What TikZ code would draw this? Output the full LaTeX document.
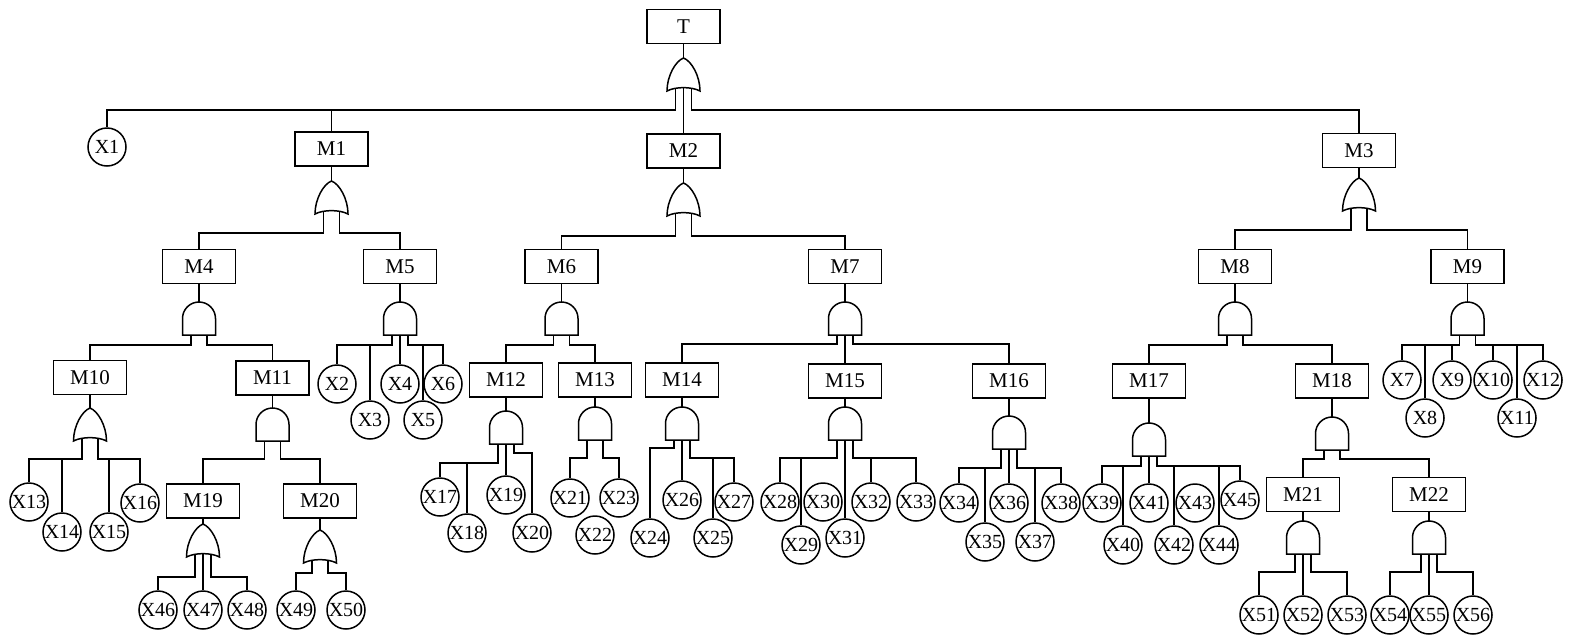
\documentclass[tikz,border=0pt]{standalone}
\usepackage{fontspec}
\setmainfont{Liberation Serif}
\newcommand\legto[3]{\draw (#1) -- (#1 |- 0,#2) -| (#3);}
\newcommand\dropto[2]{\draw (#2 |- 0,#1) -- (#2);}
\tikzset{
  evbox/.style={draw, rectangle, minimum width=36.5pt, minimum height=17pt, inner sep=0pt, font=\fontsize{10.5}{12}\selectfont},
  basic/.style={draw, circle, minimum size=19pt, inner sep=0pt, font=\fontsize{10}{12}\selectfont},
  orgate/.pic={
    \draw (0,0) .. controls (8,3) and (16.5,18) .. (16.5,33)
      .. controls (8,28.5) and (-8,28.5) .. (-16.5,33)
      .. controls (-16.5,18) and (-8,3) .. (0,0) -- cycle;
    \coordinate (-t) at (0,0);
    \coordinate (-l) at (-8,30.3);
    \coordinate (-c) at (0,29.6);
    \coordinate (-r) at (8,30.3);
  },
  andgate/.pic={
    \draw (-16.5,33) -- (-16.5,16.5) .. controls (-16.5,7.4) and (-9.1,0) .. (0,0)
      .. controls (9.1,0) and (16.5,7.4) .. (16.5,16.5) -- (16.5,33) -- cycle;
    \coordinate (-t) at (0,0);
    \coordinate (-l) at (-8,33);
    \coordinate (-c) at (0,33);
    \coordinate (-r) at (8,33);
  }
}
\begin{document}
\begin{tikzpicture}[x=0.5pt, y=-0.5pt, line width=0.75pt]
\useasboundingbox (0,0) rectangle (1572,643);
% event boxes
\node[evbox] (T) at (683.5,26.5) {T};
\node[evbox] (M1) at (331.5,149) {M1};
\node[evbox] (M2) at (683.5,151) {M2};
\node[evbox] (M3) at (1359,150.5) {M3};
\node[evbox] (M4) at (199,266.5) {M4};
\node[evbox] (M5) at (400,266.5) {M5};
\node[evbox] (M6) at (561.5,266.5) {M6};
\node[evbox] (M7) at (845,266.5) {M7};
\node[evbox] (M8) at (1235,266.5) {M8};
\node[evbox] (M9) at (1467.5,266.5) {M9};
\node[evbox] (M10) at (90,377.5) {M10};
\node[evbox] (M11) at (272.5,378) {M11};
\node[evbox] (M12) at (506,380) {M12};
\node[evbox] (M13) at (595,380) {M13};
\node[evbox] (M14) at (682,380) {M14};
\node[evbox] (M15) at (845,381) {M15};
\node[evbox] (M16) at (1009,381) {M16};
\node[evbox] (M17) at (1149,381) {M17};
\node[evbox] (M18) at (1332,381) {M18};
\node[evbox] (M19) at (203,501) {M19};
\node[evbox] (M20) at (320,501) {M20};
\node[evbox] (M21) at (1303,494.5) {M21};
\node[evbox] (M22) at (1429,494.5) {M22};
% gates
\pic (gT) at (683.5,58) {orgate};
\pic (g1) at (331.5,181) {orgate};
\pic (g2) at (683.5,183) {orgate};
\pic (g3) at (1359,178) {orgate};
\pic (g4) at (199,302) {andgate};
\pic (g5) at (400,302) {andgate};
\pic (g6) at (561.5,302) {andgate};
\pic (g7) at (845,302) {andgate};
\pic (g8) at (1235,302) {andgate};
\pic (g9) at (1467.5,302) {andgate};
\pic (g10) at (90,408) {orgate};
\pic (g11) at (272.5,408) {andgate};
\pic (g12) at (506,411) {andgate};
\pic (g13) at (595,407) {andgate};
\pic (g14) at (682,407) {andgate};
\pic (g15) at (845,407) {andgate};
\pic (g16) at (1009,416) {andgate};
\pic (g17) at (1149,423) {andgate};
\pic (g18) at (1332,417) {andgate};
\pic (g19) at (203,524) {orgate};
\pic (g20) at (320,530) {orgate};
\pic (g21) at (1303,521) {andgate};
\pic (g22) at (1429,521) {andgate};
% basic events
\node[basic] (X1) at (107,147) {X1};
\node[basic] (X2) at (337,384) {X2};
\node[basic] (X3) at (370,420) {X3};
\node[basic] (X4) at (400,384) {X4};
\node[basic] (X5) at (423,420) {X5};
\node[basic] (X6) at (443,384) {X6};
\node[basic] (X7) at (1402,380) {X7};
\node[basic] (X8) at (1425,418) {X8};
\node[basic] (X9) at (1452,380) {X9};
\node[basic] (X10) at (1493,380) {X10};
\node[basic] (X11) at (1517,418) {X11};
\node[basic] (X12) at (1543,380) {X12};
\node[basic] (X13) at (29,502) {X13};
\node[basic] (X14) at (62,532) {X14};
\node[basic] (X15) at (109,532) {X15};
\node[basic] (X16) at (140,503) {X16};
\node[basic] (X17) at (440,497) {X17};
\node[basic] (X18) at (467,533) {X18};
\node[basic] (X19) at (506,495) {X19};
\node[basic] (X20) at (532,533) {X20};
\node[basic] (X21) at (570,498) {X21};
\node[basic] (X22) at (595,535) {X22};
\node[basic] (X23) at (619,498) {X23};
\node[basic] (X24) at (650,538) {X24};
\node[basic] (X25) at (713,538) {X25};
\node[basic] (X26) at (682,500) {X26};
\node[basic] (X27) at (734,502) {X27};
\node[basic] (X28) at (780,502) {X28};
\node[basic] (X29) at (801,545) {X29};
\node[basic] (X30) at (823,502) {X30};
\node[basic] (X31) at (845,538) {X31};
\node[basic] (X32) at (871,502) {X32};
\node[basic] (X33) at (916,502) {X33};
\node[basic] (X34) at (959,503) {X34};
\node[basic] (X35) at (985,542) {X35};
\node[basic] (X36) at (1009,503) {X36};
\node[basic] (X37) at (1035,542) {X37};
\node[basic] (X38) at (1061,503) {X38};
\node[basic] (X39) at (1102,503) {X39};
\node[basic] (X40) at (1123,545) {X40};
\node[basic] (X41) at (1149,503) {X41};
\node[basic] (X42) at (1174,545) {X42};
\node[basic] (X43) at (1195,503) {X43};
\node[basic] (X44) at (1219,545) {X44};
\node[basic] (X45) at (1240,500) {X45};
\node[basic] (X46) at (158,610) {X46};
\node[basic] (X47) at (203,610) {X47};
\node[basic] (X48) at (247,610) {X48};
\node[basic] (X49) at (296,610) {X49};
\node[basic] (X50) at (346,610) {X50};
\node[basic] (X51) at (1259,615) {X51};
\node[basic] (X52) at (1303,615) {X52};
\node[basic] (X53) at (1347,615) {X53};
\node[basic] (X54) at (1390,615) {X54};
\node[basic] (X55) at (1429,615) {X55};
\node[basic] (X56) at (1473,615) {X56};
% stems from boxes to gates
\foreach \m/\g in {T/gT,M1/g1,M2/g2,M3/g3,M4/g4,M5/g5,M6/g6,M7/g7,M8/g8,M9/g9,M10/g10,M11/g11,M12/g12,M13/g13,M14/g14,M15/g15,M16/g16,M17/g17,M18/g18,M19/g19,M20/g20,M21/g21,M22/g22}
  \draw (\m) -- (\g-t);
% T
\legto{gT-l}{110}{X1} \dropto{110}{M1}
\legto{gT-r}{110}{M3}
\draw (gT-c) -- (M2);
% M1, M2, M3
\legto{g1-l}{233}{M4} \legto{g1-r}{233}{M5}
\legto{g2-l}{236}{M6} \legto{g2-r}{236}{M7}
\legto{g3-l}{230}{M8} \legto{g3-r}{230}{M9}
% M4
\legto{g4-l}{345}{M10} \legto{g4-r}{345}{M11}
% M5
\legto{g5-l}{345}{X2} \dropto{345}{X3}
\draw (g5-c) -- (X4);
\legto{g5-r}{345}{X6} \dropto{345}{X5}
% M6
\legto{g6-l}{345}{M12} \legto{g6-r}{345}{M13}
% M7
\legto{g7-l}{344}{M14} \draw (g7-c) -- (M15); \legto{g7-r}{344}{M16}
% M8
\legto{g8-l}{345}{M17} \legto{g8-r}{345}{M18}
% M9
\legto{g9-l}{345}{X7} \dropto{345}{X8} \dropto{345}{X9}
\legto{g9-r}{345}{X12} \dropto{345}{X10} \dropto{345}{X11}
% M10
\legto{g10-l}{459}{X13} \dropto{459}{X14}
\legto{g10-r}{459}{X16} \dropto{459}{X15}
% M11
\legto{g11-l}{459}{M19} \legto{g11-r}{459}{M20}
% M12
\legto{g12-l}{463}{X17} \dropto{463}{X18}
\draw (g12-c) -- (X19);
\legto{g12-r}{453}{X20}
% M13
\legto{g13-l}{458}{X21} \legto{g13-r}{458}{X23}
% M14
\legto{g14-l}{448}{X24}
\draw (g14-c) -- (X26);
\legto{g14-r}{458}{X27} \dropto{458}{X25}
% M15
\legto{g15-l}{458}{X28} \dropto{458}{X29}
\draw (g15-c) -- (X31);
\legto{g15-r}{458}{X33} \dropto{458}{X32}
% M16
\legto{g16-l}{468}{X34} \dropto{468}{X35}
\draw (g16-c) -- (X36);
\legto{g16-r}{468}{X38} \dropto{468}{X37}
% M17
\legto{g17-l}{466}{X39} \dropto{466}{X40}
\draw (g17-c) -- (X41);
\legto{g17-r}{466}{X45} \dropto{466}{X42} \dropto{466}{X44}
% M18
\legto{g18-l}{459}{M21} \legto{g18-r}{459}{M22}
% M19, M20
\legto{g19-l}{577}{X46} \draw (g19-c) -- (X47); \legto{g19-r}{577}{X48}
\legto{g20-l}{573}{X49} \legto{g20-r}{573}{X50}
% M21, M22
\legto{g21-l}{572}{X51} \draw (g21-c) -- (X52); \legto{g21-r}{572}{X53}
\legto{g22-l}{572}{X54} \draw (g22-c) -- (X55); \legto{g22-r}{572}{X56}
\end{tikzpicture}
\end{document}
